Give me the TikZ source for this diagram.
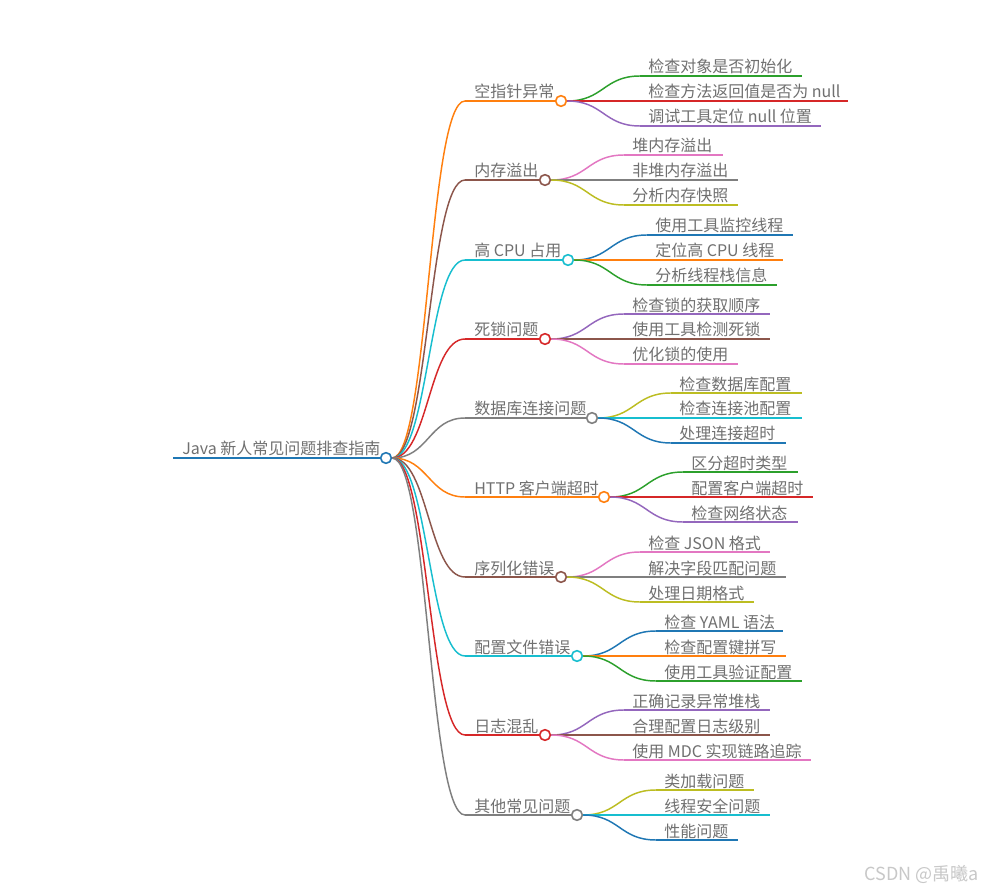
\documentclass[tikz,border=0pt]{standalone}
\usepackage{fontspec}
\newfontfamily\cjk{Noto Sans CJK SC}
\usetikzlibrary{calc}

% branch colours (category10)
\definecolor{c0}{HTML}{1F77B4}
\definecolor{c1}{HTML}{FF7F0E}
\definecolor{c2}{HTML}{2CA02C}
\definecolor{c3}{HTML}{D62728}
\definecolor{c4}{HTML}{9467BD}
\definecolor{c5}{HTML}{8C564B}
\definecolor{c6}{HTML}{E377C2}
\definecolor{c7}{HTML}{7F7F7F}
\definecolor{c8}{HTML}{BCBD22}
\definecolor{c9}{HTML}{17BECF}
\definecolor{txtgray}{HTML}{707070}
\definecolor{markgray}{HTML}{C8C8C8}

\tikzset{
  knot/.style={circle, draw=#1, fill=white, line width=1.2pt, minimum size=8pt, inner sep=0pt},
  link/.style={draw=#1, line width=1.1pt},
  txt/.style={anchor=base west, inner sep=0pt, text=txtgray, font=\cjk\fontsize{12}{14}\selectfont},
}

% smooth horizontal link between two points
\newcommand{\curvelink}[3]{%
  \draw[link=#1] let \p1=(#2), \p2=(#3) in
    (\p1) .. controls ({0.5*\x1+0.5*\x2},\y1) and ({0.5*\x1+0.5*\x2},\y2) .. (\p2);}

\begin{document}
\begin{tikzpicture}[x=0.75pt, y=-0.75pt]
        \fill[white] (0,0) rectangle (983,888);
        \useasboundingbox (0,0) rectangle (983,888);

        % Root
        \coordinate (rootl) at (173,458);
        \node[knot=c0] (root) at (386,458) {};
        \draw[link=c0, line width=1.4pt] (rootl) -- (root);
        \node[txt] (roottxt) at (182,455) {Java 新人常见问题排查指南};

        % Main branches
        \foreach \nm/\bx/\by/\bc/\blab in {
            b1/561/101/1/空指针异常,
            b2/545/180/5/内存溢出,
            b3/568/260/9/高 CPU 占用,
            b4/545/339/3/死锁问题,
            b5/592/418/7/数据库连接问题,
            b6/604/497/1/HTTP 客户端超时,
            b7/561/577/5/序列化错误,
            b8/577/656/9/配置文件错误,
            b9/545/735/3/日志混乱,
            b10/577/815/7/其他常见问题} {
            \coordinate (s\nm) at (465,\by);
            \node[knot=c\bc] (\nm) at (\bx,\by) {};
            \curvelink{c\bc}{root.east}{s\nm}
            \draw[link=c\bc] (s\nm) -- (\nm);
            \node[txt] (t\nm) at (474,\by-3) {\blab};
        }

        % Leaves
        \foreach \nm/\pa/\dy/\ex/\cc/\clab in {
            l1a/b1/-25/802/2/检查对象是否初始化,
            l1b/b1/0/848/3/检查方法返回值是否为 null,
            l1c/b1/25/821/4/调试工具定位 null 位置,
            l2a/b2/-25/723/6/堆内存溢出,
            l2b/b2/0/738/7/非堆内存溢出,
            l2c/b2/25/738/8/分析内存快照,
            l3a/b3/-25/793/0/使用工具监控线程,
            l3b/b3/0/783/1/定位高 CPU 线程,
            l3c/b3/25/777/2/分析线程栈信息,
            l4a/b4/-25/770/4/检查锁的获取顺序,
            l4b/b4/0/770/5/使用工具检测死锁,
            l4c/b4/25/738/6/优化锁的使用,
            l5a/b5/-25/802/8/检查数据库配置,
            l5b/b5/0/802/9/检查连接池配置,
            l5c/b5/25/786/0/处理连接超时,
            l6a/b6/-25/798/2/区分超时类型,
            l6b/b6/0/813/3/配置客户端超时,
            l6c/b6/25/798/4/检查网络状态,
            l7a/b7/-25/770/6/检查 JSON 格式,
            l7b/b7/0/786/7/解决字段匹配问题,
            l7c/b7/25/754/8/处理日期格式,
            l8a/b8/-25/783/0/检查 YAML 语法,
            l8b/b8/0/786/1/检查配置键拼写,
            l8c/b8/25/802/2/使用工具验证配置,
            l9a/b9/-25/770/4/正确记录异常堆栈,
            l9b/b9/0/770/5/合理配置日志级别,
            l9c/b9/25/811/6/使用 MDC 实现链路追踪,
            l10a/b10/-25/754/8/类加载问题,
            l10b/b10/0/770/9/线程安全问题,
            l10c/b10/25/738/0/性能问题} {
            \coordinate (s\nm) at ($(\pa)+(79,\dy)$);
            \coordinate (e\nm) at (s\nm -| \ex,0);
            \curvelink{c\cc}{\pa.east}{s\nm}
            \draw[link=c\cc] (s\nm) -- (e\nm);
            \node[txt] (t\nm) at ($(s\nm)+(8,-3)$) {\clab};
        }

        % Watermark
        \node[anchor=base east, inner sep=0pt, text=markgray, font=\cjk\fontsize{13.5}{15}\selectfont] (mark) at (979,880) {CSDN @禹曦a};
    \end{tikzpicture}
\end{document}
